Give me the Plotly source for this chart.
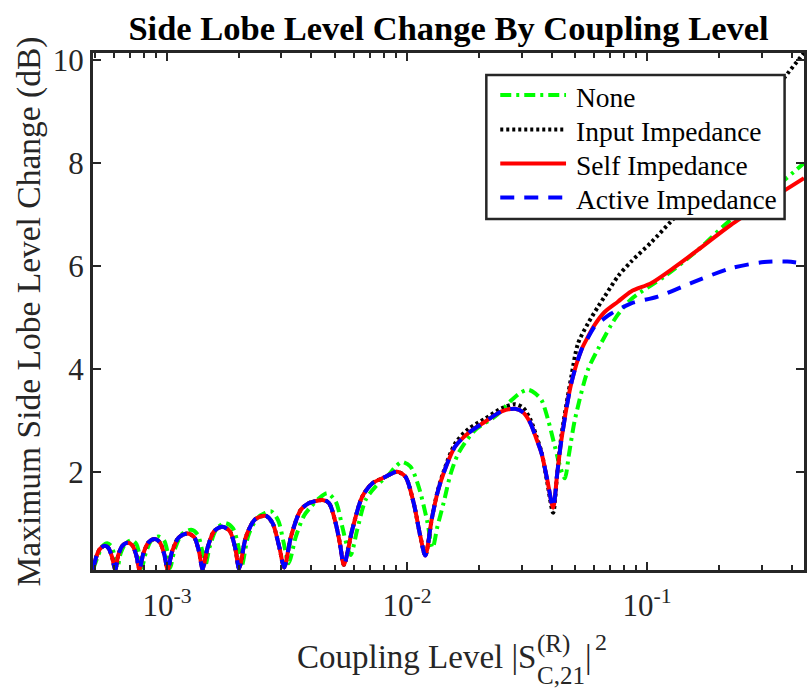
import math
import plotly.graph_objects as go

# ---------------------------------------------------------------------------
# Data: maximum side-lobe level change (dB) versus coupling level |S_C,21^(R)|^2
# ---------------------------------------------------------------------------

# Low-coupling region where the three compensated curves coincide
coupling_shared = [
    4.92e-4, 5.08e-4, 5.26e-4, 5.50e-4, 5.70e-4, 5.90e-4, 6.09e-4,
    6.27e-4, 6.52e-4, 6.87e-4, 7.17e-4, 7.45e-4, 7.68e-4,
    7.96e-4, 8.36e-4, 8.87e-4, 9.33e-4, 9.74e-4, 1.007e-3,
    1.051e-3, 1.118e-3, 1.219e-3, 1.297e-3, 1.360e-3, 1.407e-3,
    1.476e-3, 1.570e-3, 1.702e-3, 1.829e-3, 1.928e-3, 1.997e-3,
    2.135e-3, 2.312e-3, 2.464e-3, 2.585e-3, 2.754e-3, 2.936e-3, 3.079e-3,
    3.291e-3, 3.612e-3, 3.909e-3, 4.181e-3, 4.440e-3, 4.732e-3, 5.045e-3, 5.257e-3, 5.461e-3,
    5.913e-3, 6.503e-3, 7.157e-3, 8.138e-3, 9.089e-3, 9.849e-3, 1.066e-2, 1.137e-2, 1.192e-2,
]
sll_shared = [
    0.10, 0.35, 0.50, 0.56, 0.52, 0.35, 0.10,
    0.38, 0.56, 0.62, 0.57, 0.38, 0.10,
    0.40, 0.62, 0.69, 0.63, 0.40, 0.10,
    0.45, 0.72, 0.80, 0.73, 0.45, 0.11,
    0.52, 0.84, 0.93, 0.84, 0.50, 0.12,
    0.74, 1.06, 1.13, 1.14, 1.00, 0.54, 0.14,
    0.75, 1.26, 1.39, 1.43, 1.45, 1.39, 1.00, 0.60, 0.19,
    0.87, 1.51, 1.77, 1.90, 2.00, 1.90, 1.39, 0.74, 0.37,
]

# Self impedance compensation, higher coupling
coupling_self_tail = [
    1.270e-2, 1.341e-2, 1.420e-2, 1.588e-2, 1.803e-2, 2.115e-2, 2.479e-2, 2.818e-2, 3.050e-2, 3.261e-2,
    3.453e-2, 3.633e-2, 3.836e-2, 4.062e-2, 4.221e-2, 4.398e-2, 4.837e-2, 5.322e-2, 5.675e-2, 6.049e-2,
    6.656e-2, 7.557e-2, 8.583e-2, 1.039e-1, 1.258e-1, 1.624e-1, 2.231e-1, 3.069e-1, 4.505e-1,
]
sll_self_tail = [
    1.10, 1.60, 1.97, 2.49, 2.75, 2.97, 3.17, 3.22, 3.15, 2.95,
    2.65, 2.36, 1.85, 1.30, 1.95, 2.62, 3.72, 4.36, 4.62, 4.85,
    5.10, 5.30, 5.50, 5.66, 5.92, 6.30, 6.79, 7.21, 7.70,
]

# Active impedance compensation, higher coupling
coupling_active_tail = [
    1.270e-2, 1.341e-2, 1.420e-2, 1.588e-2, 1.803e-2, 2.115e-2, 2.479e-2, 2.818e-2, 3.050e-2, 3.261e-2,
    3.453e-2, 3.633e-2, 3.836e-2, 4.062e-2, 4.221e-2, 4.398e-2, 4.837e-2, 5.322e-2, 5.675e-2, 6.049e-2,
    6.656e-2, 7.090e-2, 8.583e-2, 1.108e-1, 1.523e-1, 2.231e-1, 3.069e-1, 3.836e-1, 4.505e-1,
]
sll_active_tail = [
    1.10, 1.60, 1.97, 2.49, 2.75, 2.97, 3.17, 3.22, 3.15, 2.95,
    2.65, 2.36, 1.85, 1.30, 1.95, 2.62, 3.72, 4.36, 4.60, 4.82,
    4.98, 5.07, 5.27, 5.40, 5.66, 5.95, 6.07, 6.08, 6.04,
]

# Input impedance compensation, higher coupling
coupling_input_tail = [
    1.270e-2, 1.341e-2, 1.420e-2, 1.588e-2, 1.803e-2, 2.115e-2, 2.479e-2, 2.818e-2, 3.050e-2, 3.261e-2,
    3.453e-2, 3.633e-2, 3.836e-2, 4.062e-2, 4.221e-2, 4.398e-2, 4.837e-2, 5.157e-2, 5.675e-2, 6.244e-2,
    6.656e-2, 7.557e-2, 8.583e-2, 1.039e-1, 1.258e-1, 1.624e-1, 2.378e-1, 3.716e-1, 4.505e-1,
]
sll_input_tail = [
    1.10, 1.62, 2.00, 2.55, 2.83, 3.03, 3.23, 3.31, 3.24, 3.02,
    2.70, 2.38, 1.80, 1.20, 1.95, 2.70, 3.85, 4.49, 4.88, 5.20,
    5.40, 5.79, 6.08, 6.45, 6.86, 7.42, 8.40, 9.64, 10.13,
]

# No compensation
coupling_none = [
    4.92e-4, 5.18e-4, 5.38e-4, 5.64e-4, 5.87e-4, 6.04e-4, 6.21e-4,
    6.42e-4, 6.74e-4, 7.14e-4, 7.45e-4, 7.67e-4, 7.85e-4,
    8.16e-4, 8.60e-4, 9.24e-4, 9.74e-4, 1.007e-3, 1.031e-3,
    1.076e-3, 1.151e-3, 1.262e-3, 1.341e-3, 1.400e-3, 1.440e-3,
    1.511e-3, 1.616e-3, 1.752e-3, 1.882e-3, 1.984e-3, 2.051e-3,
    2.183e-3, 2.379e-3, 2.568e-3, 2.719e-3, 2.908e-3, 3.064e-3, 3.214e-3,
    3.443e-3, 3.728e-3, 3.985e-3, 4.301e-3, 4.656e-3, 5.045e-3, 5.375e-3, 5.594e-3, 5.823e-3,
    6.202e-3, 6.721e-3, 7.393e-3, 8.397e-3, 8.979e-3, 9.535e-3, 1.033e-2, 1.118e-2, 1.211e-2, 1.278e-2,
    1.341e-2, 1.420e-2, 1.518e-2, 1.639e-2, 1.922e-2, 2.327e-2, 2.728e-2, 2.964e-2, 3.199e-2, 3.420e-2,
    3.633e-2, 3.873e-2, 4.129e-2, 4.343e-2, 4.543e-2, 4.733e-2, 4.999e-2, 5.675e-2, 6.244e-2, 6.656e-2,
    7.090e-2, 7.557e-2, 8.583e-2, 1.181e-1, 1.624e-1, 2.231e-1, 3.069e-1, 4.505e-1,
]
sll_none = [
    0.10, 0.38, 0.55, 0.61, 0.55, 0.38, 0.12,
    0.42, 0.61, 0.67, 0.60, 0.40, 0.13,
    0.42, 0.66, 0.74, 0.66, 0.42, 0.13,
    0.48, 0.78, 0.87, 0.78, 0.48, 0.15,
    0.56, 0.90, 1.00, 0.90, 0.55, 0.18,
    0.76, 1.10, 1.20, 1.23, 1.05, 0.62, 0.22,
    0.74, 1.15, 1.32, 1.48, 1.58, 1.42, 0.93, 0.60, 0.38,
    0.87, 1.45, 1.71, 1.94, 2.10, 2.19, 2.10, 1.71, 1.06, 0.52,
    0.95, 1.39, 1.95, 2.36, 2.81, 3.07, 3.39, 3.53, 3.59, 3.52,
    3.39, 3.00, 2.49, 2.10, 1.87, 2.35, 3.00, 3.98, 4.38, 4.62,
    4.85, 5.05, 5.35, 5.79, 6.30, 6.89, 7.34, 7.99,
]

series_names = ["None", "Input Impedance", "Self Impedance", "Active Impedance"]

x_tick_vals = [1e-3, 1e-2, 1e-1]
x_tick_text = ["10<sup>-3</sup>", "10<sup>-2</sup>", "10<sup>-1</sup>"]
x_minor_vals = ([k * 1e-4 for k in range(5, 10)] + [k * 1e-3 for k in range(2, 10)]
                + [k * 1e-2 for k in range(2, 10)] + [k * 1e-1 for k in range(2, 5)])
y_tick_vals = [2, 4, 6, 8, 10]

# ---------------------------------------------------------------------------
# Styling
# ---------------------------------------------------------------------------
SERIF = "Liberation Serif, Times New Roman, serif"
AX = "#262626"

styles = {
    "None": dict(color="#00FF00", width=4, dash="11px,5px,3px,5px"),
    "Input Impedance": dict(color="#000000", width=4, dash="3px,3px"),
    "Self Impedance": dict(color="#FF0000", width=4, dash="solid"),
    "Active Impedance": dict(color="#0000FF", width=4, dash="14px,10px"),
}

curves = {
    "None": (coupling_none, sll_none),
    "Input Impedance": (coupling_shared + coupling_input_tail, sll_shared + sll_input_tail),
    "Self Impedance": (coupling_shared + coupling_self_tail, sll_shared + sll_self_tail),
    "Active Impedance": (coupling_shared + coupling_active_tail, sll_shared + sll_active_tail),
}

fig = go.Figure()
for name in series_names:
    xs, ys = curves[name]
    fig.add_trace(go.Scatter(
        x=xs, y=ys, mode="lines", name=name, showlegend=False,
        line=dict(**styles[name], shape="spline", smoothing=0.8),
    ))

axis_common = dict(
    showgrid=False, zeroline=False,
    showline=True, linecolor=AX, linewidth=3, mirror="ticks",
    ticks="inside", ticklen=8, tickwidth=2, tickcolor=AX,
    tickfont=dict(family=SERIF, size=31, color=AX),
)

fig.update_layout(
    width=809, height=698,
    margin=dict(l=93, r=2, t=53, b=128),
    paper_bgcolor="white", plot_bgcolor="white",
    title=dict(
        text="Side Lobe Level Change By Coupling Level",
        font=dict(family=SERIF, size=34.5, color="black", weight="bold"),
        x=0.5, xref="paper", xanchor="center",
        y=1 - 28 / 698, yref="container", yanchor="middle",
    ),
    xaxis=dict(
        type="log",
        range=[math.log10(4.92e-4), math.log10(0.4505)],
        tickvals=x_tick_vals, ticktext=x_tick_text,
        ticklabelstandoff=6,
        minor=dict(tickvals=x_minor_vals, ticks="inside", ticklen=5,
                   tickwidth=2, tickcolor=AX, showgrid=False),
        **axis_common,
    ),
    yaxis=dict(
        range=[0.09, 10.13],
        tickvals=y_tick_vals,
        title=dict(text="Maximum Side Lobe Level Change (dB)",
                   font=dict(family=SERIF, size=33.5, color=AX), standoff=3),
        **axis_common,
    ),
)

# x-axis label with stacked super/subscript on S
lab_font = dict(family=SERIF, size=33, color=AX)
scr_font = dict(family=SERIF, size=25, color=AX)
fig.add_annotation(text="Coupling Level |S", xref="paper", yref="paper",
                   x=0.2843, y=-0.1683, xanchor="left", yanchor="middle",
                   showarrow=False, font=lab_font)
fig.add_annotation(text="(R)", xref="paper", yref="paper",
                   x=0.6218, y=-0.1431, xanchor="left", yanchor="middle",
                   showarrow=False, font=scr_font)
fig.add_annotation(text="C,21", xref="paper", yref="paper",
                   x=0.6218, y=-0.2050, xanchor="left", yanchor="middle",
                   showarrow=False, font=scr_font)
fig.add_annotation(text="|", xref="paper", yref="paper",
                   x=0.6891, y=-0.1683, xanchor="left", yanchor="middle",
                   showarrow=False, font=lab_font)
fig.add_annotation(text="2", xref="paper", yref="paper",
                   x=0.7031, y=-0.1393, xanchor="left", yanchor="middle",
                   showarrow=False, font=dict(family=SERIF, size=24, color=AX))

# Legend box drawn in paper coordinates
leg_x0, leg_x1, leg_y0, leg_y1 = 0.5532, 0.9727, 0.6789, 0.9574
leg_rows = [0.9188, 0.8520, 0.7863, 0.7205]
sample_x0, sample_x1, text_x = 0.5728, 0.6653, 0.6765

fig.add_shape(type="rect", xref="paper", yref="paper",
              x0=leg_x0, x1=leg_x1, y0=leg_y0, y1=leg_y1,
              line=dict(color=AX, width=2.5), fillcolor="white", layer="above")
for name, ry in zip(series_names, leg_rows):
    fig.add_shape(type="line", xref="paper", yref="paper",
                  x0=sample_x0, x1=sample_x1, y0=ry, y1=ry,
                  line=styles[name], layer="above")
    fig.add_annotation(text=name, xref="paper", yref="paper",
                       x=text_x, y=ry - 0.004, xanchor="left", yanchor="middle",
                       showarrow=False, font=dict(family=SERIF, size=27.5, color="black"))

fig.write_html("out.html")
